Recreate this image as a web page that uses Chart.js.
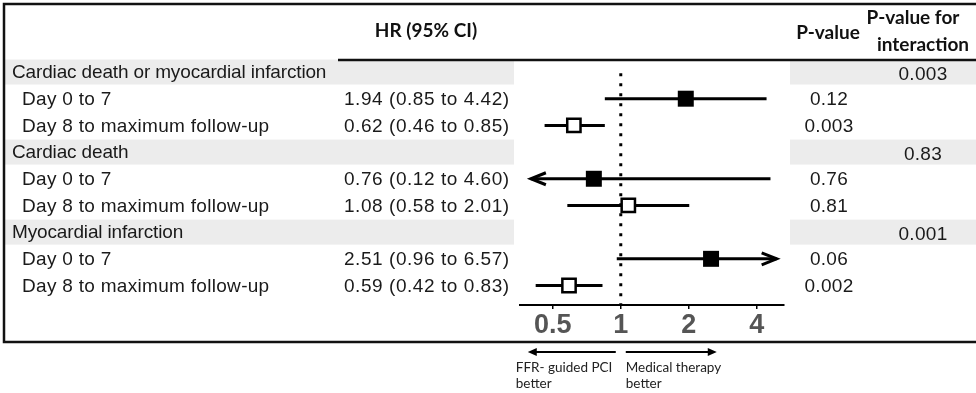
<!DOCTYPE html>
<html lang="en">
<head>
<meta charset="UTF-8">
<title>HR forest plot</title>
<script src="https://cdn.jsdelivr.net/npm/chart.js"></script>
<style>
    body { margin: 0; background: #fff; }
    #forest { display: block; }
</style>
</head>
<body>
<canvas id="forest" width="976" height="393"></canvas>
<script>
// table rows, top to bottom
const rowLabels = [
    'Cardiac death or myocardial infarction',
    'Day 0 to 7',
    'Day 8 to maximum follow-up',
    'Cardiac death',
    'Day 0 to 7',
    'Day 8 to maximum follow-up',
    'Myocardial infarction',
    'Day 0 to 7',
    'Day 8 to maximum follow-up'
];
const isGroupRow = [true, false, false, true, false, false, true, false, false];
const hrValues = [null, 1.94, 0.62, null, 0.76, 1.08, null, 2.51, 0.59];
const ciLower = [null, 0.85, 0.46, null, 0.12, 0.58, null, 0.96, 0.42];
const ciUpper = [null, 4.42, 0.85, null, 4.60, 2.01, null, 6.57, 0.83];
const earlyPeriod = [null, true, false, null, true, false, null, true, false];
const hrText = ['', '1.94 (0.85 to 4.42)', '0.62 (0.46 to 0.85)', '', '0.76 (0.12 to 4.60)',
    '1.08 (0.58 to 2.01)', '', '2.51 (0.96 to 6.57)', '0.59 (0.42 to 0.83)'];
const pValues = ['', '0.12', '0.003', '', '0.76', '0.81', '', '0.06', '0.002'];
const pInteraction = ['0.003', '', '', '0.83', '', '', '0.001', '', ''];
const xTicks = [0.5, 1, 2, 4];

// where CI lines get cut and turned into arrows
const clipLow = 0.4;
const clipHigh = 4.9;

const BODY_FONT = '19px "Liberation Sans", Arial, sans-serif';
const HEAD_FONT = 'bold 19px Lato, "Open Sans", sans-serif';
const NOTE_FONT = '13.5px Lato, "Open Sans", sans-serif';

const rows = rowLabels.map((_, i) => i);
const plotRows = rows.filter(i => hrValues[i] !== null);

const ciDatasets = plotRows.map(i => ({
    type: 'line',
    data: [
        { x: Math.max(ciLower[i], clipLow), y: i },
        { x: Math.min(ciUpper[i], clipHigh), y: i }
    ],
    borderColor: '#000',
    borderWidth: 3,
    pointRadius: 0,
    order: 3
}));

const tablePlugin = {
    id: 'table',
    beforeDatasetsDraw(chart) {
        const ctx = chart.ctx;
        const y = chart.scales.y;
        ctx.save();
        ctx.fillStyle = '#ececec';
        rows.forEach(i => {
            if (!isGroupRow[i]) return;
            const py = y.getPixelForValue(i);
            ctx.fillRect(5, py - 12.5, 509, 25);
            ctx.fillRect(790, py - 12.5, 186, 25);
        });
        ctx.restore();
    },
    afterDatasetsDraw(chart) {
        const ctx = chart.ctx;
        const xs = chart.scales.x;
        const y = chart.scales.y;
        ctx.save();
        ctx.strokeStyle = '#000';
        ctx.lineWidth = 3;
        // arrow heads where the CI runs off the scale
        plotRows.forEach(i => {
            const py = y.getPixelForValue(i);
            if (ciLower[i] < clipLow) {
                const px = xs.getPixelForValue(clipLow);
                ctx.beginPath();
                ctx.moveTo(px + 15, py - 6);
                ctx.lineTo(px, py);
                ctx.lineTo(px + 15, py + 6);
                ctx.stroke();
            }
            if (ciUpper[i] > clipHigh) {
                const px = xs.getPixelForValue(clipHigh);
                ctx.beginPath();
                ctx.moveTo(px - 15, py - 6);
                ctx.lineTo(px, py);
                ctx.lineTo(px - 15, py + 6);
                ctx.stroke();
            }
        });
        ctx.restore();
    },
    afterDraw(chart) {
        const ctx = chart.ctx;
        const xs = chart.scales.x;
        const y = chart.scales.y;
        ctx.save();

        // frame
        ctx.strokeStyle = '#111';
        ctx.lineWidth = 2.5;
        ctx.beginPath();
        ctx.moveTo(976, 4);
        ctx.lineTo(4, 4);
        ctx.lineTo(4, 342);
        ctx.lineTo(976, 342);
        ctx.stroke();
        ctx.beginPath();
        ctx.moveTo(338, 60);
        ctx.lineTo(976, 60);
        ctx.stroke();

        // headers
        ctx.fillStyle = '#111';
        ctx.font = HEAD_FONT;
        ctx.textBaseline = 'middle';
        ctx.textAlign = 'center';
        ctx.fillText('HR (95% CI)', 426, 31);
        ctx.fillText('P-value', 828, 33);
        ctx.fillText('P-value for', 913, 18);
        ctx.fillText('interaction', 923, 45);

        // rows
        ctx.font = BODY_FONT;
        ctx.fillStyle = '#1a1a1a';
        rows.forEach(i => {
            const py = y.getPixelForValue(i) + 1;
            ctx.textAlign = 'left';
            ctx.letterSpacing = isGroupRow[i] ? '-0.15px' : '0.3px';
            ctx.fillText(rowLabels[i], isGroupRow[i] ? 12 : 22, py);
            ctx.letterSpacing = '0.55px';
            if (hrText[i]) ctx.fillText(hrText[i], 344, py);
            ctx.letterSpacing = '0.3px';
            ctx.textAlign = 'center';
            if (pValues[i]) ctx.fillText(pValues[i], 829, py);
            if (pInteraction[i]) ctx.fillText(pInteraction[i], 923, py + 2);
        });
        ctx.letterSpacing = '0px';

        // direction notes under the axis
        const x1 = xs.getPixelForValue(1);
        ctx.strokeStyle = '#000';
        ctx.fillStyle = '#000';
        ctx.lineWidth = 2;
        ctx.beginPath();
        ctx.moveTo(x1 - 85, 352);
        ctx.lineTo(x1 - 5, 352);
        ctx.moveTo(x1 + 5, 352);
        ctx.lineTo(x1 + 88, 352);
        ctx.stroke();
        ctx.beginPath();
        ctx.moveTo(x1 - 93, 352);
        ctx.lineTo(x1 - 84, 348);
        ctx.lineTo(x1 - 84, 356);
        ctx.closePath();
        ctx.moveTo(x1 + 96, 352);
        ctx.lineTo(x1 + 87, 348);
        ctx.lineTo(x1 + 87, 356);
        ctx.closePath();
        ctx.fill();

        ctx.font = NOTE_FONT;
        ctx.fillStyle = '#222';
        ctx.textAlign = 'left';
        ctx.fillText('FFR- guided PCI', x1 - 105, 368);
        ctx.fillText('better', x1 - 105, 384);
        ctx.fillText('Medical therapy', x1 + 5, 368);
        ctx.fillText('better', x1 + 5, 384);
        ctx.restore();
    }
};

new Chart(document.getElementById('forest'), {
    type: 'scatter',
    data: {
        datasets: [
            {
                // Day 0 to 7: filled squares
                data: plotRows.filter(i => earlyPeriod[i]).map(i => ({ x: hrValues[i], y: i })),
                pointStyle: 'rect',
                pointRadius: 11.3,
                backgroundColor: '#000',
                borderWidth: 0,
                order: 1
            },
            {
                // Day 8 to max follow-up: open squares
                data: plotRows.filter(i => !earlyPeriod[i]).map(i => ({ x: hrValues[i], y: i })),
                pointStyle: 'rect',
                pointRadius: 9.4,
                backgroundColor: '#fff',
                borderColor: '#000',
                borderWidth: 2.5,
                order: 2
            },
            ...ciDatasets,
            {
                // line of no effect
                type: 'line',
                data: [{ x: 1, y: 0.05 }, { x: 1, y: 8.73 }],
                borderColor: '#000',
                borderWidth: 3,
                borderDash: [3, 7],
                pointRadius: 0,
                order: 4
            }
        ]
    },
    options: {
        responsive: false,
        animation: false,
        events: [],
        layout: { padding: { left: 520, right: 192, top: 60, bottom: 48 } },
        plugins: { legend: { display: false }, tooltip: { enabled: false } },
        scales: {
            x: {
                type: 'logarithmic',
                min: 0.358,
                max: 5.28,
                afterBuildTicks: s => { s.ticks = xTicks.map(v => ({ value: v })); },
                afterFit: s => { s.height = 40; },
                ticks: {
                    callback: v => String(v),
                    autoSkip: false,
                    maxRotation: 0,
                    padding: 0,
                    color: '#555',
                    font: { family: '"Liberation Sans", Arial, sans-serif', weight: 'bold', size: 27 }
                },
                grid: { drawOnChartArea: false, tickLength: 4, color: '#000', lineWidth: 1.5 },
                border: { display: true, color: '#000', width: 2 }
            },
            y: {
                type: 'linear',
                reverse: true,
                min: -0.45,
                max: 8.73,
                display: false
            }
        }
    },
    plugins: [tablePlugin]
});
</script>
</body>
</html>
